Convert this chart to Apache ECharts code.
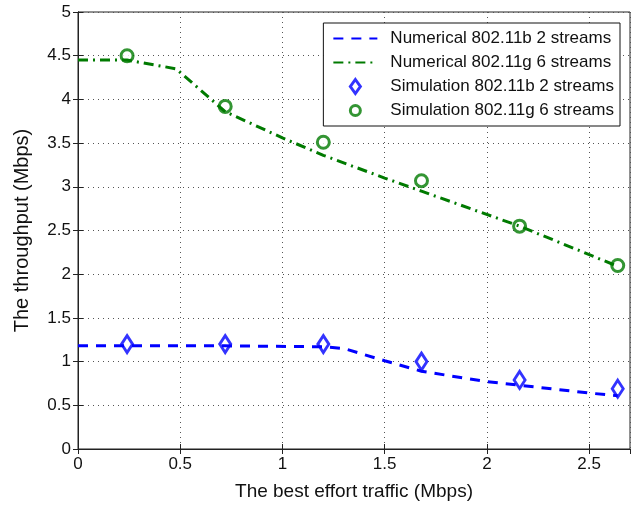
<!DOCTYPE html>
<html lang="en">
<head>
    <meta charset="UTF-8">
    <title>Throughput</title>
    <style>
        html, body { margin: 0; padding: 0; background: #fff; }
    </style>
</head>
<body>
<div id="main" style="width: 637px;height:506px;"></div>
<script src="https://cdn.jsdelivr.net/npm/echarts@6/dist/echarts.min.js"></script>
<script>
    // numerical curves
    var numBX = [0, 0.24, 0.72, 1.2, 1.3, 1.5, 1.68, 2.0, 2.16, 2.5, 2.64];
    var numBY = [1.18, 1.18, 1.18, 1.17, 1.15, 1.01, 0.89, 0.77, 0.73, 0.64, 0.61];
    var numGX = [0, 0.24, 0.48, 0.72, 1.0, 1.2, 1.5, 1.68, 2.16, 2.64];
    var numGY = [4.45, 4.45, 4.35, 3.86, 3.56, 3.36, 3.1, 2.95, 2.55, 2.09];
    // simulation points
    var simX = [0.24, 0.72, 1.2, 1.68, 2.16, 2.64];
    var simB = [1.2, 1.2, 1.2, 1.0, 0.79, 0.69];
    var simG = [4.5, 3.92, 3.51, 3.07, 2.55, 2.1];
    var names = ['Numerical 802.11b 2 streams', 'Numerical 802.11g 6 streams',
                 'Simulation 802.11b 2 streams', 'Simulation 802.11g 6 streams'];

    function pairs(xs, ys) {
        var out = [];
        for (var i = 0; i < xs.length; i++) out.push([xs[i], ys[i]]);
        return out;
    }

    var blue = '#0000ff', green = '#007a00';
    var myChart = echarts.init(document.getElementById('main'));
    var font = 'Liberation Sans, Arial, sans-serif';
    var axisLine = {show: true, lineStyle: {color: '#222', width: 1}};
    var split = {show: true, lineStyle: {color: '#555', type: [1, 4], width: 1}};
    var tick = {show: true, inside: true, length: 5, lineStyle: {color: '#222'}};

    var option = {
        backgroundColor: '#fff',
        animation: false,
        grid: {left: 78, top: 12, right: 7, bottom: 57, show: true, borderColor: '#222', borderWidth: 1},
        legend: {
            orient: 'vertical',
            right: 17, top: 23,
            itemWidth: 44, itemHeight: 14, itemGap: 7,
            padding: [7, 6, 7, 9],
            borderColor: '#111', borderWidth: 1, borderRadius: 0,
            backgroundColor: '#fff',
            textStyle: {fontFamily: font, fontSize: 17, color: '#111', padding: [0, 0, 0, 8]},
            data: [
                {name: names[0], itemStyle: {opacity: 0}},
                {name: names[1], itemStyle: {opacity: 0}},
                {name: names[2], icon: 'path://M5,0 L10,7 L5,14 L0,7 Z',
                    itemStyle: {color: '#fff', borderColor: blue, borderWidth: 3}},
                {name: names[3], icon: 'path://M0,0 M14,14 M12,7 A5,5 0 1 1 2,7 A5,5 0 1 1 12,7 Z',
                    itemStyle: {color: '#fff', borderColor: green, borderWidth: 3}}
            ]
        },
        xAxis: [{
            type: 'value', min: 0, max: 2.7, interval: 0.5,
            name: 'The best effort traffic (Mbps)', nameLocation: 'middle', nameGap: 33,
            nameTextStyle: {fontFamily: font, fontSize: 19, color: '#111'},
            axisLine: axisLine, axisTick: tick,
            axisLabel: {fontFamily: font, fontSize: 17, color: '#111', margin: 7, showMaxLabel: false},
            splitLine: split
        }, {
            type: 'value', min: 0, max: 2.7, interval: 0.5, position: 'top',
            axisLine: axisLine, axisTick: tick,
            axisLabel: {show: false}, splitLine: {show: false}
        }],
        yAxis: [{
            type: 'value', min: 0, max: 5, interval: 0.5,
            name: 'The throughput (Mbps)', nameLocation: 'middle', nameGap: 46,
            nameTextStyle: {fontFamily: font, fontSize: 20, color: '#111'},
            axisLine: axisLine, axisTick: tick,
            axisLabel: {fontFamily: font, fontSize: 17, color: '#111', margin: 7},
            splitLine: split
        }, {
            type: 'value', min: 0, max: 5, interval: 0.5, position: 'right',
            axisLine: axisLine, axisTick: tick,
            axisLabel: {show: false}, splitLine: {show: false}
        }],
        series: [{
            name: names[0], type: 'line', showSymbol: false, symbol: 'none',
            data: pairs(numBX, numBY),
            lineStyle: {color: blue, width: 3, type: [10, 8]},
            itemStyle: {color: blue}
        }, {
            name: names[1], type: 'line', showSymbol: false, symbol: 'none',
            data: pairs(numGX, numGY),
            lineStyle: {color: green, width: 3, type: [10, 5, 2, 5]},
            itemStyle: {color: green}
        }, {
            name: names[2], type: 'scatter',
            data: pairs(simX, simB),
            symbol: 'diamond', symbolSize: [11, 17],
            itemStyle: {color: '#fff', borderColor: blue, borderWidth: 3}
        }, {
            name: names[3], type: 'scatter',
            data: pairs(simX, simG),
            symbol: 'circle', symbolSize: 12,
            itemStyle: {color: '#fff', borderColor: green, borderWidth: 3}
        }]
    };
    myChart.setOption(option);
</script>
</body>
</html>
